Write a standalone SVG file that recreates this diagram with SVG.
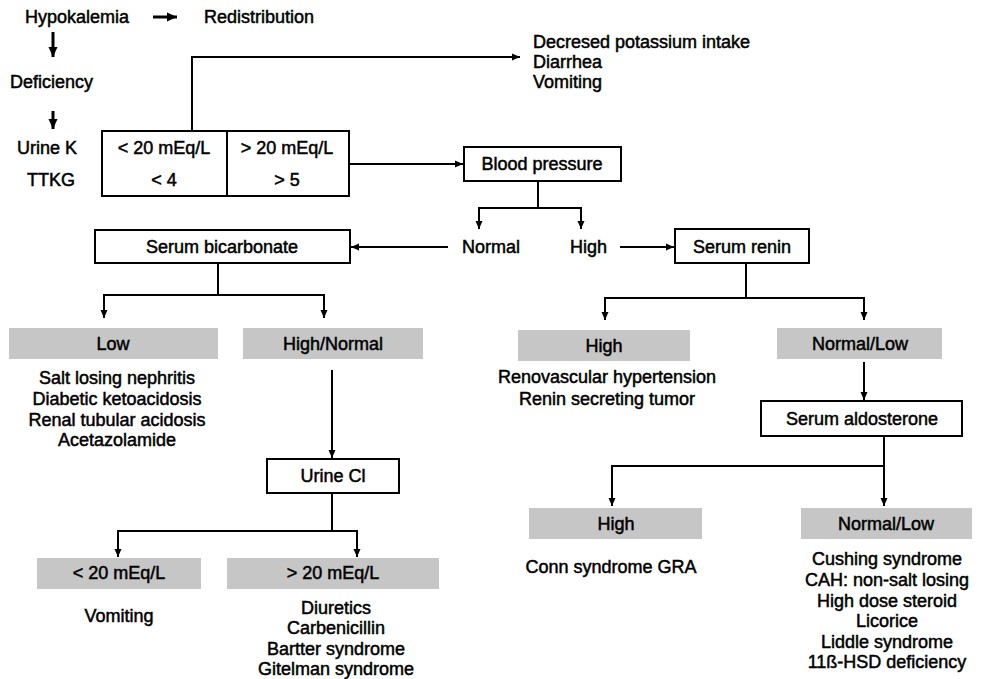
<svg xmlns="http://www.w3.org/2000/svg" width="986" height="679" viewBox="0 0 986 679">
<style>
text{font-family:"Liberation Sans",Arial,sans-serif;font-size:18px;fill:#000;stroke:#000;stroke-width:0.5px}
.m{text-anchor:middle}
.box{fill:#fff;stroke:#000;stroke-width:2}
.gray{fill:#c6c6c6;stroke:none}
.c{fill:none;stroke:#000;stroke-width:2}
.cb{fill:none;stroke:#000;stroke-width:3}
</style>
<defs>
<marker id="a" markerUnits="userSpaceOnUse" markerWidth="8" markerHeight="8" refX="8" refY="4" orient="auto"><path d="M0,0.5 L8,4 L0,7.5 z" fill="#000"/></marker>
<marker id="b" markerUnits="userSpaceOnUse" markerWidth="10" markerHeight="10" refX="10" refY="5" orient="auto"><path d="M0,0.5 L10,5 L0,9.5 z" fill="#000"/></marker>
</defs>
<rect width="986" height="679" fill="#fff"/>
<g id="connectors">
<path class="cb" d="M153,17 H177" marker-end="url(#b)"/>
<path class="cb" d="M53,32 V57" marker-end="url(#b)"/>
<path class="cb" d="M53,111 V129" marker-end="url(#b)"/>
<path class="c" d="M192,131 V57 H520" marker-end="url(#a)"/>
<path class="c" d="M349,164 H463" marker-end="url(#a)"/>
<path class="c" d="M538,181 V208 H479 V229" marker-end="url(#a)"/>
<path class="c" d="M538,208 H581 V229" marker-end="url(#a)"/>
<path class="c" d="M448,247 H351" marker-end="url(#a)"/>
<path class="c" d="M620,247 H674" marker-end="url(#a)"/>
<path class="c" d="M218,263 V295 H104 V318" marker-end="url(#a)"/>
<path class="c" d="M218,295 H324 V318" marker-end="url(#a)"/>
<path class="c" d="M746,263 V298 H605 V320" marker-end="url(#a)"/>
<path class="c" d="M746,298 H864 V320" marker-end="url(#a)"/>
<path class="c" d="M332,370 V458" marker-end="url(#a)"/>
<path class="c" d="M864,362 V400" marker-end="url(#a)"/>
<path class="c" d="M332,493 V531 H118 V557" marker-end="url(#a)"/>
<path class="c" d="M332,531 H357 V557" marker-end="url(#a)"/>
<path class="c" d="M884,436 V466 H612 V506" marker-end="url(#a)"/>
<path class="c" d="M884,466 V506" marker-end="url(#a)"/>
</g>
<g id="hypokalemia"><text x="25" y="23">Hypokalemia</text></g>
<g id="redistribution"><text x="204" y="23">Redistribution</text></g>
<g id="deficiency"><text x="10" y="88">Deficiency</text></g>
<g id="labels-left"><text x="17" y="154">Urine K</text><text x="27" y="186">TTKG</text></g>
<g id="table">
<rect class="box" x="102" y="131" width="247" height="65"/>
<line x1="227" y1="131" x2="227" y2="196" stroke="#000" stroke-width="2"/>
<text class="m" x="164" y="154">&lt; 20 mEq/L</text>
<text class="m" x="287" y="154">&gt; 20 mEq/L</text>
<text class="m" x="164" y="186">&lt; 4</text>
<text class="m" x="287" y="186">&gt; 5</text>
</g>
<g id="low-intake">
<text x="533" y="48">Decresed potassium intake</text>
<text x="533" y="68">Diarrhea</text>
<text x="533" y="88">Vomiting</text>
</g>
<g id="blood-pressure"><rect class="box" x="464" y="147" width="157" height="34"/><text class="m" x="542" y="170">Blood pressure</text></g>
<g id="bp-normal"><text x="462" y="253">Normal</text></g>
<g id="bp-high"><text x="570" y="253">High</text></g>
<g id="serum-bicarbonate"><rect class="box" x="95" y="230" width="255" height="33"/><text class="m" x="222" y="253">Serum bicarbonate</text></g>
<g id="serum-renin"><rect class="box" x="675" y="229" width="134" height="34"/><text class="m" x="742" y="253">Serum renin</text></g>
<g id="bicarb-low"><rect class="gray" x="9" y="328" width="209" height="31"/><text class="m" x="113" y="350">Low</text></g>
<g id="bicarb-high"><rect class="gray" x="243" y="328" width="180" height="31"/><text class="m" x="333" y="350">High/Normal</text></g>
<g id="low-causes">
<text class="m" x="117" y="384">Salt losing nephritis</text>
<text class="m" x="117" y="405">Diabetic ketoacidosis</text>
<text class="m" x="117" y="426">Renal tubular acidosis</text>
<text class="m" x="117" y="446">Acetazolamide</text>
</g>
<g id="renin-high"><rect class="gray" x="518" y="330" width="172" height="31"/><text class="m" x="604" y="352">High</text></g>
<g id="renin-normal-low"><rect class="gray" x="777" y="328" width="165" height="31"/><text class="m" x="860" y="350">Normal/Low</text></g>
<g id="renin-high-causes">
<text class="m" x="607" y="383">Renovascular hypertension</text>
<text class="m" x="607" y="405">Renin secreting tumor</text>
</g>
<g id="serum-aldosterone"><rect class="box" x="761" y="401" width="201" height="35"/><text class="m" x="862" y="425">Serum aldosterone</text></g>
<g id="urine-cl"><rect class="box" x="267" y="459" width="132" height="34"/><text class="m" x="333" y="482">Urine Cl</text></g>
<g id="aldo-high"><rect class="gray" x="529" y="508" width="173" height="31"/><text class="m" x="616" y="530">High</text></g>
<g id="aldo-normal-low"><rect class="gray" x="801" y="508" width="171" height="31"/><text class="m" x="886" y="530">Normal/Low</text></g>
<g id="conn"><text class="m" x="611" y="573">Conn syndrome GRA</text></g>
<g id="aldo-low-causes">
<text class="m" x="887" y="565">Cushing syndrome</text>
<text class="m" x="887" y="586">CAH: non-salt losing</text>
<text class="m" x="887" y="607">High dose steroid</text>
<text class="m" x="887" y="627">Licorice</text>
<text class="m" x="887" y="648">Liddle syndrome</text>
<text class="m" x="887" y="668">11ß-HSD deficiency</text>
</g>
<g id="cl-low"><rect class="gray" x="37" y="558" width="164" height="31"/><text class="m" x="119" y="579">&lt; 20 mEq/L</text></g>
<g id="cl-high"><rect class="gray" x="227" y="558" width="212" height="31"/><text class="m" x="333" y="579">&gt; 20 mEq/L</text></g>
<g id="cl-low-causes"><text class="m" x="119" y="622">Vomiting</text></g>
<g id="cl-high-causes">
<text class="m" x="336" y="614">Diuretics</text>
<text class="m" x="336" y="634">Carbenicillin</text>
<text class="m" x="336" y="655">Bartter syndrome</text>
<text class="m" x="336" y="675">Gitelman syndrome</text>
</g>
</svg>
